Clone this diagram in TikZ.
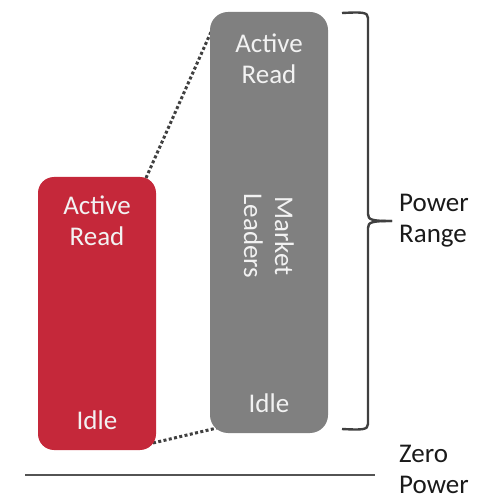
\documentclass[tikz,border=0pt]{standalone}
\usepackage{fontspec}
\setmainfont{Carlito}
\usetikzlibrary{calc}
\definecolor{barred}{HTML}{C5283A}
\definecolor{bargray}{HTML}{808080}
\definecolor{ink}{HTML}{404040}
\definecolor{txt}{HTML}{1A1A1A}
\begin{document}
\begin{tikzpicture}[x=1pt,y=1pt,
  bar/.style={rounded corners=16pt, draw=none, minimum width=118pt, inner sep=0pt},
  intext/.style={text=white!95!black, font=\fontsize{27}{31}\selectfont, align=center, inner sep=0pt},
  outtext/.style={text=txt, font=\fontsize{27}{31}\selectfont, align=left, inner sep=0pt, anchor=west},
  dotline/.style={draw=ink, line width=3pt, dash pattern=on 3pt off 2.4pt},
  brace/.style={draw=ink, line width=2.4pt}]
\useasboundingbox (0,0) rectangle (501,496);
% connectors behind boxes
\coordinate (d1) at (146,318);
\coordinate (d2) at (211,464);
\coordinate (d3) at (153,53);
\coordinate (d4) at (217,68);
\draw[dotline] (d1) -- (d2);
\draw[dotline] (d3) -- (d4);
% bars
\node[bar, fill=barred, minimum height=273pt] (red) at (97,182.5) {};
\node[bar, fill=bargray, minimum height=421pt, rounded corners=18pt] (gray) at (269,273.5) {};
% texts in bars
\node[intext] (redactive) at (97,275) {Active\\Read};
\node[intext] (redidle) at (97,76) {Idle};
\node[intext] (grayactive) at (269,437) {Active\\Read};
\node[intext, rotate=-90] (market) at (269,260) {Market\\Leaders};
\node[intext] (grayidle) at (269,93) {Idle};
% brace
\draw[brace] (342,483) .. controls (362,484) and (368,484) .. (368,478)
  -- (368,282) .. controls (368,276) and (372,275) .. (392,275);
\draw[brace] (342,67) .. controls (362,66) and (368,66) .. (368,72)
  -- (368,268) .. controls (368,274) and (372,275) .. (392,275);
% zero line
\coordinate (z1) at (25,21);
\coordinate (z2) at (375,21);
\draw[draw=ink!90!white, line width=2.8pt] (z1) -- (z2);
% labels
\node[outtext] (power) at (399,275) {Power\\Range};
\node[outtext] (zero) at (399,27) {Zero\\Power};
\end{tikzpicture}
\end{document}
